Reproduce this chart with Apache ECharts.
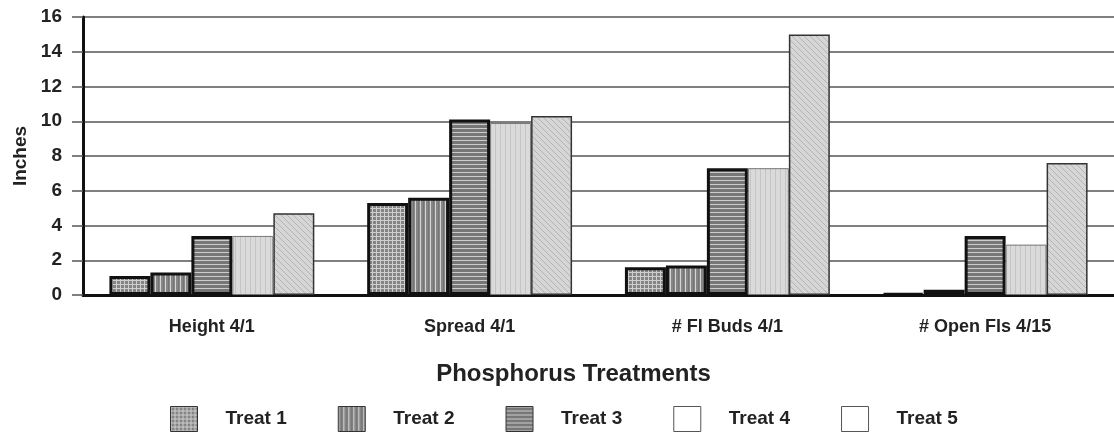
<!DOCTYPE html>
<html>
<head>
<meta charset="utf-8">
<script src="https://cdn.jsdelivr.net/npm/echarts@6/dist/echarts.min.js"></script>
<style>
  html, body { margin: 0; padding: 0; background: #fff; }
  #chart { width: 1114px; height: 437px; }
</style>
</head>
<body>
<div id="chart"></div>
<script>
var categories = ['Height 4/1', 'Spread 4/1', '# Fl Buds 4/1', '# Open Fls 4/15'];
var seriesNames = ['Treat 1', 'Treat 2', 'Treat 3', 'Treat 4', 'Treat 5'];
var treat1 = [1.1, 5.3, 1.6, 0.1];
var treat2 = [1.3, 5.6, 1.7, 0.3];
var treat3 = [3.4, 10.1, 7.3, 3.4];
var treat4 = [3.4, 9.9, 7.3, 2.9];
var treat5 = [4.7, 10.3, 15.0, 7.6];
var yTicks = [0, 2, 4, 6, 8, 10, 12, 14, 16];

// small canvas tiles used as fill patterns, like the old excel hatches
function tile(w, h, bg, draw) {
  var c = document.createElement('canvas');
  c.width = w; c.height = h;
  var ctx = c.getContext('2d');
  ctx.fillStyle = bg;
  ctx.fillRect(0, 0, w, h);
  draw(ctx);
  return { image: c, repeat: 'repeat' };
}

var pat1 = tile(4, 4, '#848484', function(ctx) {
  ctx.fillStyle = '#cfcfcf';
  ctx.fillRect(0, 0, 4, 1);
  ctx.fillRect(0, 0, 1, 4);
});
var pat2 = tile(5, 4, '#868686', function(ctx) {
  ctx.fillStyle = '#d4d4d4';
  ctx.fillRect(0, 0, 1, 4);
  ctx.fillStyle = '#747474';
  ctx.fillRect(3, 0, 1, 4);
});
var pat3 = tile(4, 4, '#777777', function(ctx) {
  ctx.fillStyle = '#cccccc';
  ctx.fillRect(0, 0, 4, 1);
});
var pat4 = tile(5, 4, '#dadada', function(ctx) {
  ctx.fillStyle = '#c4c4c4';
  ctx.fillRect(0, 0, 1, 4);
});
var pat5 = tile(6, 6, '#d6d6d6', function(ctx) {
  ctx.fillStyle = '#b4b4b4';
  for (var i = 0; i < 6; i++) ctx.fillRect(i, i, 1, 1);
});

var fills = [pat1, pat2, pat3, pat4, pat5];
var borders = [
  { borderColor: '#111', borderWidth: 3 },
  { borderColor: '#111', borderWidth: 3 },
  { borderColor: '#111', borderWidth: 3 },
  { borderColor: '#777', borderWidth: 1 },
  { borderColor: '#333', borderWidth: 1.5 }
];
var values = [treat1, treat2, treat3, treat4, treat5];

var series = seriesNames.map(function(name, i) {
  return {
    name: name,
    type: 'bar',
    data: values[i],
    barGap: 0,
    barCategoryGap: '20.5%',
    itemStyle: {
      color: fills[i],
      borderColor: borders[i].borderColor,
      borderWidth: borders[i].borderWidth
    }
  };
});

var legendData = seriesNames.map(function(name, i) {
  return {
    name: name,
    itemStyle: i < 3
      ? { color: fills[i], borderColor: '#333', borderWidth: 1 }
      : { color: '#fff', borderColor: '#555', borderWidth: 1 }
  };
});

var chart = echarts.init(document.getElementById('chart'));
chart.setOption({
  animation: false,
  backgroundColor: '#fff',
  textStyle: { fontFamily: 'Liberation Sans, Arial, sans-serif' },
  grid: { left: 83, right: 0, top: 17, bottom: 142 },
  legend: {
    data: legendData,
    left: 165,
    top: 401,
    itemWidth: 27,
    itemHeight: 25,
    itemGap: 51,
    icon: 'rect',
    textStyle: { fontSize: 19, fontWeight: 'bold', color: '#222', padding: [0, 0, 0, 23] }
  },
  xAxis: {
    type: 'category',
    data: categories,
    name: 'Phosphorus Treatments',
    nameLocation: 'middle',
    nameGap: 67,
    nameTextStyle: { fontSize: 24, fontWeight: 'bold', color: '#222', padding: [0, 50, 0, 0] },
    axisLine: { lineStyle: { color: '#111', width: 3 } },
    axisTick: { alignWithLabel: true, length: 11, lineStyle: { color: '#222', width: 1 } },
    axisLabel: { fontSize: 18, fontWeight: 'bold', color: '#222', margin: 23 }
  },
  yAxis: {
    type: 'value',
    min: yTicks[0],
    max: yTicks[yTicks.length - 1],
    interval: 2,
    name: 'Inches',
    nameLocation: 'middle',
    nameGap: 52,
    nameTextStyle: { fontSize: 19, fontWeight: 'bold', color: '#222' },
    axisLine: { show: true, lineStyle: { color: '#111', width: 3 } },
    axisTick: { show: true, length: 11, lineStyle: { color: '#555', width: 1.5 } },
    axisLabel: { fontSize: 19, fontWeight: 'bold', color: '#222', margin: 21 },
    splitLine: { lineStyle: { color: '#555', width: 1.5 } }
  },
  series: series
});
window.addEventListener('resize', function() { chart.resize(); });
</script>
</body>
</html>
